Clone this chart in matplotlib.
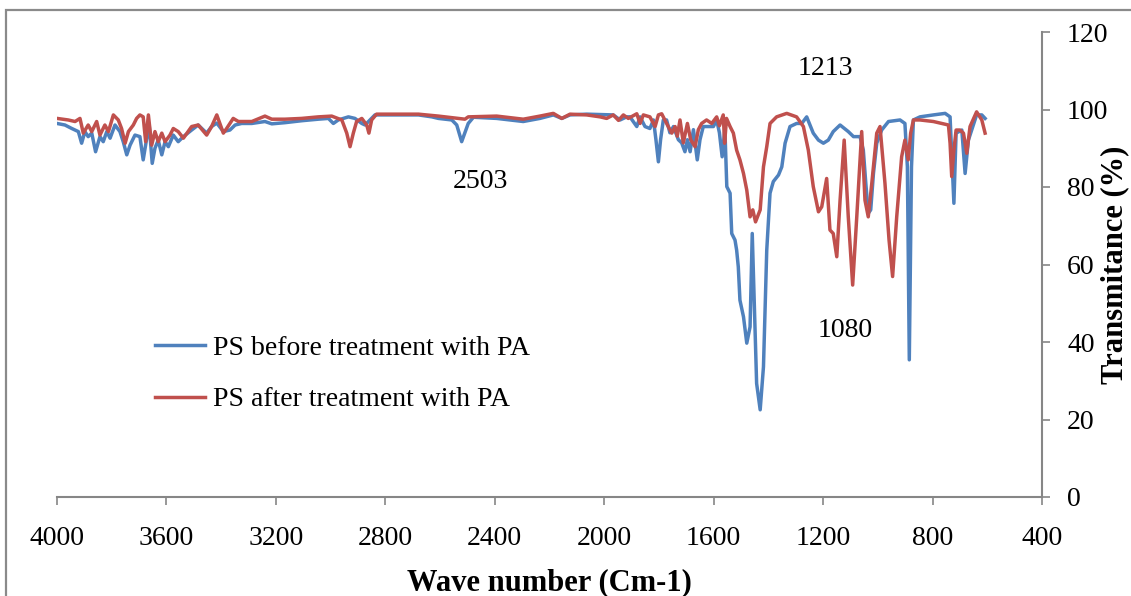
"""FTIR spectra of PS before and after treatment with PA"""
import matplotlib

matplotlib.use("Agg")
from matplotlib import pyplot as plt
from matplotlib.patches import Rectangle

# wave numbers (cm-1) and transmittance (%)
before_wn = [
    4000, 3971, 3946, 3922, 3910, 3898, 3886, 3873, 3859, 3843, 3831, 3818,
    3806, 3788, 3770, 3758, 3745, 3733, 3715, 3697, 3685, 3672, 3663, 3652,
    3642, 3630, 3617, 3605, 3593, 3575, 3557, 3538, 3508, 3484, 3453, 3435,
    3416, 3392, 3368, 3349, 3325, 3288, 3240, 3215, 3167, 3106, 3045, 3008,
    2990, 2972, 2935, 2911, 2886, 2874, 2856, 2838, 2679, 2630, 2606, 2557,
    2539, 2521, 2497, 2478, 2393, 2296, 2235, 2186, 2155, 2125, 2064, 1967,
    1942, 1918, 1906, 1881, 1869, 1851, 1833, 1820, 1811, 1802, 1794, 1784,
    1772, 1760, 1747, 1729, 1717, 1705, 1696, 1686, 1674, 1660, 1650, 1638,
    1620, 1601, 1589, 1579, 1569, 1559, 1552, 1540, 1534, 1522, 1516, 1510,
    1504, 1491, 1479, 1467, 1459, 1452, 1443, 1430, 1418, 1406, 1394, 1382,
    1363, 1351, 1339, 1321, 1297, 1278, 1260, 1236, 1217, 1199, 1181, 1163,
    1138, 1108, 1089, 1065, 1053, 1044, 1035, 1026, 1016, 1004, 986, 961,
    919, 901, 892, 885, 877, 870, 846, 797, 754, 736, 728, 722,
    714, 693, 681, 669, 639, 620, 608,
]
before_t = [
    96.4, 96.0, 95.1, 94.3, 91.3, 94.3, 93.0, 93.9, 89.1, 93.0, 91.7, 94.3,
    92.6, 96.0, 94.3, 91.7, 88.3, 90.8, 93.4, 93.0, 87.0, 92.6, 96.0, 86.1,
    90.0, 92.1, 88.3, 91.7, 90.4, 93.4, 91.7, 93.0, 94.7, 96.0, 93.9, 95.6,
    96.5, 94.3, 94.7, 96.0, 96.4, 96.4, 96.9, 96.3, 96.6, 97.1, 97.5, 97.7,
    96.4, 97.3, 98.1, 97.7, 96.4, 96.0, 97.3, 98.6, 98.6, 98.1, 97.7, 97.3,
    96.0, 91.7, 96.4, 98.0, 97.7, 96.9, 97.7, 98.6, 97.7, 98.6, 98.8, 98.6,
    97.3, 98.1, 98.1, 95.6, 98.1, 95.6, 95.1, 97.3, 92.2, 86.5, 92.2, 97.3,
    97.3, 94.0, 95.6, 92.2, 91.4, 89.1, 92.2, 89.1, 94.8, 87.0, 92.2, 95.6,
    95.6, 95.6, 97.3, 94.0, 87.8, 95.0, 80.1, 78.4, 68.0, 66.3, 63.7, 59.4,
    50.8, 46.5, 39.7, 43.9, 68.0, 50.8, 29.3, 22.5, 33.6, 63.7, 78.4, 81.4,
    83.1, 85.2, 91.3, 95.6, 96.4, 96.4, 98.1, 93.9, 92.1, 91.3, 92.1, 94.3,
    96.0, 94.3, 93.0, 93.0, 89.5, 81.0, 73.2, 74.1, 83.5, 91.3, 94.7, 96.9,
    97.3, 96.4, 85.2, 35.4, 85.2, 97.3, 98.1, 98.6, 99.0, 98.1, 85.2, 75.8,
    93.9, 94.7, 83.5, 92.1, 98.6, 98.6, 97.7,
]

after_wn = [
    4000, 3959, 3934, 3916, 3904, 3886, 3873, 3855, 3843, 3825, 3812, 3794,
    3776, 3764, 3751, 3739, 3721, 3709, 3697, 3685, 3676, 3666, 3654, 3642,
    3630, 3617, 3605, 3587, 3575, 3557, 3538, 3508, 3484, 3453, 3435, 3416,
    3392, 3380, 3356, 3337, 3288, 3240, 3215, 3167, 3106, 3045, 2996, 2959,
    2941, 2929, 2917, 2905, 2886, 2868, 2860, 2850, 2832, 2679, 2606, 2509,
    2497, 2393, 2296, 2235, 2186, 2155, 2125, 2064, 2015, 1991, 1967, 1948,
    1930, 1912, 1881, 1869, 1857, 1833, 1814, 1802, 1790, 1772, 1753, 1741,
    1733, 1723, 1711, 1696, 1684, 1668, 1656, 1644, 1626, 1607, 1589, 1579,
    1565, 1560, 1553, 1540, 1528, 1516, 1504, 1491, 1479, 1467, 1457, 1447,
    1430, 1418, 1406, 1394, 1370, 1333, 1297, 1272, 1254, 1236, 1217, 1205,
    1187, 1175, 1163, 1150, 1138, 1123, 1108, 1092, 1077, 1059, 1047, 1035,
    1022, 1004, 992, 974, 959, 946, 931, 913, 901, 889, 880, 870,
    846, 797, 742, 736, 730, 722, 714, 700, 687, 675, 663, 639,
    620, 608,
]
after_t = [
    97.7, 97.3, 96.9, 97.7, 93.9, 96.0, 94.3, 96.9, 93.4, 96.0, 94.3, 98.6,
    97.3, 95.1, 91.3, 94.3, 96.0, 97.7, 98.6, 98.1, 91.7, 98.6, 90.8, 94.3,
    91.7, 93.9, 91.7, 93.4, 95.1, 94.3, 92.6, 95.6, 96.0, 93.4, 95.6, 98.6,
    93.9, 95.1, 97.7, 96.9, 96.9, 98.3, 97.5, 97.5, 97.7, 98.1, 98.3, 97.3,
    93.9, 90.4, 93.9, 96.9, 97.7, 96.0, 93.9, 97.3, 98.8, 98.8, 98.3, 97.5,
    98.1, 98.3, 97.5, 98.3, 99.0, 97.7, 98.8, 98.6, 98.1, 97.7, 98.6, 97.2,
    98.6, 97.7, 98.9, 96.4, 98.6, 98.1, 95.6, 98.6, 98.9, 96.4, 93.9, 95.6,
    93.1, 97.3, 91.4, 96.4, 92.2, 90.4, 94.8, 96.4, 97.3, 96.4, 98.1, 95.8,
    98.6, 91.3, 97.7, 95.6, 93.9, 89.5, 87.0, 83.5, 79.2, 72.3, 74.1, 71.0,
    74.1, 85.2, 90.4, 96.4, 98.1, 99.0, 98.1, 95.6, 89.5, 80.1, 73.6, 74.9,
    82.2, 68.9, 68.0, 62.0, 76.6, 92.1, 72.3, 54.7, 72.3, 94.3, 76.6, 72.3,
    81.0, 93.9, 95.6, 81.0, 66.3, 56.9, 72.3, 87.8, 92.1, 87.0, 93.9, 97.3,
    97.3, 96.9, 96.0, 91.3, 82.7, 89.5, 94.7, 94.7, 93.9, 88.7, 95.6, 99.4,
    97.3, 93.9,
]

x_ticks = [4000, 3600, 3200, 2800, 2400, 2000, 1600, 1200, 800, 400]
y_ticks = [0, 20, 40, 60, 80, 100, 120]

# peak labels: text, wave number, transmittance position
peak_labels = ["1213", "2503", "1080"]
peak_wn = [1193, 2454, 1120]
peak_t = [110.7, 81.5, 43.0]

BLUE = "#4F81BD"
RED = "#C0504D"
GREY = "#868686"


def plot_spectra():
    """Draw both spectra in the old spreadsheet style and save to out.png"""
    plt.rcParams["font.family"] = ["Liberation Serif", "DejaVu Serif"]
    fig = plt.figure(figsize=(11.31, 5.96), dpi=100)
    ax = fig.add_axes([57 / 1131, 99 / 596, 985 / 1131, 465 / 596])

    ax.plot(before_wn, before_t, color=BLUE, lw=2.5,
            label="PS before treatment with PA", solid_joinstyle="round")
    ax.plot(after_wn, after_t, color=RED, lw=2.5,
            label="PS after treatment with PA", solid_joinstyle="round")

    ax.set_xlim(4000, 400)
    ax.set_ylim(0, 120)
    ax.set_xticks(x_ticks)
    ax.set_yticks(y_ticks)

    for side in ["top", "left"]:
        ax.spines[side].set_visible(False)
    for side in ["bottom", "right"]:
        ax.spines[side].set_color(GREY)
        ax.spines[side].set_linewidth(1.5)

    ax.yaxis.tick_right()
    ax.tick_params(axis="x", direction="out", length=6, width=1.2,
                   color=GREY, labelsize=20, pad=15)
    ax.tick_params(axis="y", direction="out", length=6, width=1.2,
                   color=GREY, labelsize=20, pad=12)

    ax.set_xlabel("Wave number (Cm-1)", fontsize=22, fontweight="bold",
                  labelpad=12)
    ax.set_ylabel("Transmitance (%)", fontsize=22, fontweight="bold",
                  rotation=90, ha="center", va="center")
    ax.yaxis.set_label_coords(1.074, 0.5)

    for text, wn, t in zip(peak_labels, peak_wn, peak_t):
        ax.text(wn, t, text, fontsize=20, ha="center", va="center")

    ax.legend(loc="center left", bbox_to_anchor=(98 / 985, 0.265),
              frameon=False, fontsize=20, handlelength=1.8,
              handletextpad=0.3, labelspacing=0.95, borderpad=0,
              borderaxespad=0)

    # frame of the original figure, only left and top edges are in view
    fig.patches.append(Rectangle((6 / 1131, -0.2), 1.5, 1.2 - 10 / 596,
                                 transform=fig.transFigure, fill=False,
                                 ec="#8a8a8a", lw=1.6))

    fig.savefig("out.png", dpi=100)


if __name__ == "__main__":
    plot_spectra()
